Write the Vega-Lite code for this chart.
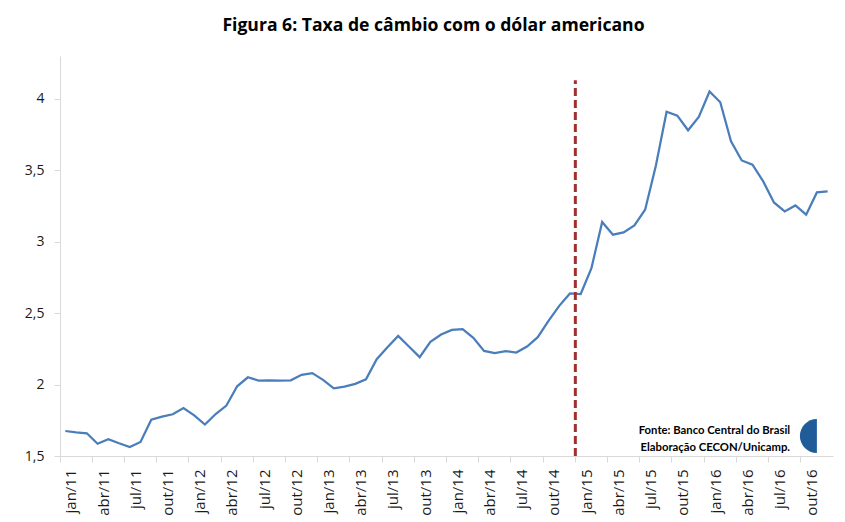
{
  "$schema": "https://vega.github.io/schema/vega-lite/v6.json",
  "width": 773,
  "height": 400,
  "autosize": {"type": "none"},
  "padding": {"left": 60, "top": 56, "right": 12, "bottom": 66},
  "background": "white",
  "title": {
    "text": "Figura 6: Taxa de câmbio com o dólar americano",
    "font": "Open Sans",
    "fontSize": 17.6,
    "fontWeight": "bold",
    "color": "#000000",
    "anchor": "middle",
    "frame": "group",
    "dx": -13,
    "offset": 21
  },
  "config": {
    "view": {"stroke": null},
    "axis": {
      "labelFont": "Open Sans",
      "titleFont": "Open Sans",
      "labelColor": "#1a1a1a",
      "domainColor": "#d9d9d9",
      "tickColor": "#d9d9d9",
      "grid": false
    }
  },
  "datasets": {
    "cambio": [
      {"mes": "jan/11", "taxa": 1.675}, {"mes": "fev/11", "taxa": 1.666}, {"mes": "mar/11", "taxa": 1.659},
      {"mes": "abr/11", "taxa": 1.586}, {"mes": "mai/11", "taxa": 1.617}, {"mes": "jun/11", "taxa": 1.589},
      {"mes": "jul/11", "taxa": 1.563}, {"mes": "ago/11", "taxa": 1.598}, {"mes": "set/11", "taxa": 1.754},
      {"mes": "out/11", "taxa": 1.776}, {"mes": "nov/11", "taxa": 1.792}, {"mes": "dez/11", "taxa": 1.836},
      {"mes": "jan/12", "taxa": 1.785}, {"mes": "fev/12", "taxa": 1.72}, {"mes": "mar/12", "taxa": 1.794},
      {"mes": "abr/12", "taxa": 1.853}, {"mes": "mai/12", "taxa": 1.988}, {"mes": "jun/12", "taxa": 2.051},
      {"mes": "jul/12", "taxa": 2.028}, {"mes": "ago/12", "taxa": 2.03}, {"mes": "set/12", "taxa": 2.028},
      {"mes": "out/12", "taxa": 2.03}, {"mes": "nov/12", "taxa": 2.068}, {"mes": "dez/12", "taxa": 2.08},
      {"mes": "jan/13", "taxa": 2.033}, {"mes": "fev/13", "taxa": 1.974}, {"mes": "mar/13", "taxa": 1.986},
      {"mes": "abr/13", "taxa": 2.005}, {"mes": "mai/13", "taxa": 2.037}, {"mes": "jun/13", "taxa": 2.178},
      {"mes": "jul/13", "taxa": 2.262}, {"mes": "ago/13", "taxa": 2.341}, {"mes": "set/13", "taxa": 2.266},
      {"mes": "out/13", "taxa": 2.192}, {"mes": "nov/13", "taxa": 2.299}, {"mes": "dez/13", "taxa": 2.35},
      {"mes": "jan/14", "taxa": 2.383}, {"mes": "fev/14", "taxa": 2.388}, {"mes": "mar/14", "taxa": 2.327},
      {"mes": "abr/14", "taxa": 2.236}, {"mes": "mai/14", "taxa": 2.22}, {"mes": "jun/14", "taxa": 2.234},
      {"mes": "jul/14", "taxa": 2.224}, {"mes": "ago/14", "taxa": 2.266}, {"mes": "set/14", "taxa": 2.332},
      {"mes": "out/14", "taxa": 2.446}, {"mes": "nov/14", "taxa": 2.551}, {"mes": "dez/14", "taxa": 2.638},
      {"mes": "jan/15", "taxa": 2.634}, {"mes": "fev/15", "taxa": 2.815}, {"mes": "mar/15", "taxa": 3.138},
      {"mes": "abr/15", "taxa": 3.049}, {"mes": "mai/15", "taxa": 3.065}, {"mes": "jun/15", "taxa": 3.114},
      {"mes": "jul/15", "taxa": 3.224}, {"mes": "ago/15", "taxa": 3.532}, {"mes": "set/15", "taxa": 3.91},
      {"mes": "out/15", "taxa": 3.883}, {"mes": "nov/15", "taxa": 3.78}, {"mes": "dez/15", "taxa": 3.874},
      {"mes": "jan/16", "taxa": 4.051}, {"mes": "fev/16", "taxa": 3.976}, {"mes": "mar/16", "taxa": 3.703},
      {"mes": "abr/16", "taxa": 3.569}, {"mes": "mai/16", "taxa": 3.539}, {"mes": "jun/16", "taxa": 3.422},
      {"mes": "jul/16", "taxa": 3.275}, {"mes": "ago/16", "taxa": 3.212}, {"mes": "set/16", "taxa": 3.254},
      {"mes": "out/16", "taxa": 3.189}, {"mes": "nov/16", "taxa": 3.345}, {"mes": "dez/16", "taxa": 3.352}
    ],
    "marco": [{"mes": "jan/15", "y1": 1.5, "y2": 4.13}],
    "fonte": [
      {"mes": "set/16", "taxa": 1.654, "texto": "Fonte: Banco Central do Brasil"},
      {"mes": "set/16", "taxa": 1.535, "texto": "Elaboração CECON/Unicamp."}
    ],
    "logo": [{"mes": "nov/16", "taxa": 1.64}]
  },
  "layer": [
    {
      "data": {"name": "cambio"},
      "mark": {"type": "line", "color": "#4A7EBB", "strokeWidth": 2.25},
      "encoding": {
        "x": {
          "field": "mes", "type": "ordinal", "sort": null,
          "scale": {"type": "band", "paddingInner": 0, "paddingOuter": 0},
          "axis": {
            "title": null,
            "values": ["jan/11","abr/11","jul/11","out/11","jan/12","abr/12","jul/12","out/12","jan/13","abr/13","jul/13","out/13","jan/14","abr/14","jul/14","out/14","jan/15","abr/15","jul/15","out/15","jan/16","abr/16","jul/16","out/16"],
            "bandPosition": 0,
            "labelAngle": 270,
            "labelAlign": "right",
            "labelBaseline": "middle",
            "labelOffset": 6,
            "labelFontSize": 15,
            "labelPadding": 7,
            "tickSize": 6
          }
        },
        "y": {
          "field": "taxa", "type": "quantitative",
          "scale": {"domain": [1.5, 4.3], "nice": false, "zero": false},
          "axis": {
            "title": null,
            "values": [1.5, 2, 2.5, 3, 3.5, 4],
            "labelExpr": "replace(format(datum.value, '~g'), '.', ',')",
            "labelFontSize": 14,
            "labelPadding": 10,
            "tickSize": 6
          }
        }
      }
    },
    {
      "data": {"name": "marco"},
      "mark": {"type": "rule", "color": "#A0302D", "strokeWidth": 3, "strokeDash": [8, 4]},
      "encoding": {
        "x": {"field": "mes", "type": "ordinal", "sort": null, "bandPosition": 0},
        "y": {"field": "y1", "type": "quantitative"},
        "y2": {"field": "y2"}
      }
    },
    {
      "data": {"name": "fonte"},
      "mark": {"type": "text", "align": "right", "baseline": "alphabetic", "font": "Lato", "fontSize": 11.3, "fontWeight": "bold", "color": "#000000"},
      "encoding": {
        "x": {"field": "mes", "type": "ordinal", "sort": null, "bandPosition": 0},
        "y": {"field": "taxa", "type": "quantitative"},
        "text": {"field": "texto"}
      }
    },
    {
      "data": {"name": "logo"},
      "mark": {"type": "point", "filled": true, "shape": "M0,-1 A1,1 0 0,0 0,1 Z", "size": 1156, "color": "#1F5C99", "opacity": 1},
      "encoding": {
        "x": {"field": "mes", "type": "ordinal", "sort": null},
        "y": {"field": "taxa", "type": "quantitative"}
      }
    }
  ]
}
